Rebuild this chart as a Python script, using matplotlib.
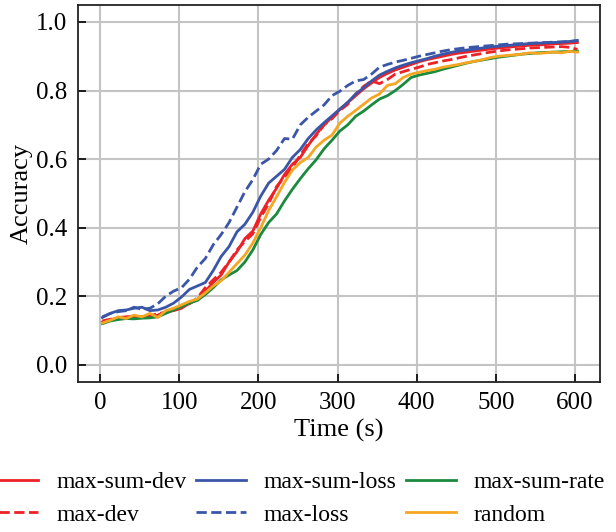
import numpy as np
import matplotlib
matplotlib.use('Agg')
import matplotlib.pyplot as plt

plt.rcParams['font.family'] = ['Liberation Serif', 'DejaVu Serif']
plt.rcParams['mathtext.fontset'] = 'stix'

# czas (s) - próbki co 10 s
time = np.arange(3, 604, 10)

max_sum_dev = [0.125, 0.130, 0.138, 0.140, 0.142, 0.140, 0.140, 0.145, 0.155, 0.158,
               0.165, 0.180, 0.190, 0.215, 0.240, 0.262, 0.300, 0.330, 0.368, 0.390,
               0.440, 0.480, 0.515, 0.555, 0.585, 0.605, 0.640, 0.672, 0.700, 0.722,
               0.745, 0.765, 0.785, 0.805, 0.822, 0.838, 0.850, 0.860, 0.868, 0.876,
               0.884, 0.890, 0.895, 0.900, 0.905, 0.909, 0.912, 0.915, 0.918, 0.921,
               0.924, 0.926, 0.928, 0.930, 0.932, 0.933, 0.934, 0.936, 0.937, 0.938,
               0.940]
max_dev = [0.128, 0.133, 0.135, 0.138, 0.140, 0.138, 0.142, 0.150, 0.152, 0.160,
           0.170, 0.178, 0.195, 0.225, 0.248, 0.270, 0.300, 0.335, 0.360, 0.382,
           0.430, 0.470, 0.520, 0.548, 0.575, 0.612, 0.645, 0.668, 0.700, 0.718,
           0.742, 0.760, 0.790, 0.812, 0.828, 0.820, 0.832, 0.848, 0.855, 0.862,
           0.868, 0.876, 0.881, 0.886, 0.890, 0.895, 0.900, 0.904, 0.908, 0.912,
           0.915, 0.918, 0.920, 0.922, 0.924, 0.925, 0.926, 0.927, 0.928, 0.926,
           0.920]
max_sum_loss = [0.138, 0.150, 0.158, 0.160, 0.165, 0.168, 0.158, 0.160, 0.168, 0.180,
                0.198, 0.220, 0.230, 0.240, 0.275, 0.316, 0.345, 0.388, 0.410, 0.445,
                0.492, 0.530, 0.550, 0.570, 0.605, 0.628, 0.660, 0.685, 0.706, 0.726,
                0.746, 0.766, 0.790, 0.808, 0.828, 0.845, 0.856, 0.866, 0.874, 0.881,
                0.887, 0.893, 0.900, 0.906, 0.911, 0.915, 0.918, 0.921, 0.924, 0.927,
                0.929, 0.931, 0.933, 0.935, 0.937, 0.938, 0.939, 0.940, 0.941, 0.943,
                0.946]
max_loss = [0.140, 0.150, 0.155, 0.158, 0.168, 0.162, 0.165, 0.178, 0.200, 0.215,
            0.225, 0.250, 0.285, 0.310, 0.350, 0.380, 0.415, 0.460, 0.505, 0.540,
            0.585, 0.600, 0.625, 0.660, 0.658, 0.700, 0.722, 0.740, 0.758, 0.785,
            0.798, 0.815, 0.828, 0.832, 0.848, 0.868, 0.876, 0.883, 0.888, 0.894,
            0.900, 0.905, 0.910, 0.915, 0.919, 0.922, 0.925, 0.927, 0.929, 0.931,
            0.933, 0.935, 0.936, 0.937, 0.938, 0.939, 0.940, 0.941, 0.942, 0.943,
            0.945]
max_sum_rate = [0.120, 0.128, 0.132, 0.135, 0.134, 0.136, 0.137, 0.140, 0.150, 0.160,
                0.170, 0.180, 0.188, 0.205, 0.225, 0.248, 0.262, 0.275, 0.300, 0.335,
                0.380, 0.415, 0.440, 0.478, 0.512, 0.543, 0.572, 0.598, 0.630, 0.655,
                0.682, 0.700, 0.725, 0.740, 0.758, 0.775, 0.785, 0.800, 0.818, 0.838,
                0.845, 0.850, 0.855, 0.862, 0.868, 0.874, 0.880, 0.885, 0.889, 0.893,
                0.897, 0.900, 0.903, 0.906, 0.908, 0.910, 0.911, 0.912, 0.913, 0.914,
                0.915]
random_sel = [0.122, 0.130, 0.140, 0.135, 0.145, 0.140, 0.150, 0.138, 0.158, 0.165,
              0.175, 0.185, 0.192, 0.210, 0.230, 0.245, 0.270, 0.295, 0.320, 0.355,
              0.400, 0.450, 0.490, 0.532, 0.568, 0.590, 0.605, 0.635, 0.655, 0.670,
              0.705, 0.725, 0.742, 0.760, 0.778, 0.790, 0.815, 0.820, 0.838, 0.848,
              0.853, 0.858, 0.862, 0.868, 0.872, 0.876, 0.881, 0.885, 0.890, 0.896,
              0.900, 0.902, 0.904, 0.906, 0.910, 0.908, 0.910, 0.912, 0.910, 0.914,
              0.912]

fig = plt.figure(figsize=(6.16, 5.32), dpi=100)
ax = fig.add_axes([0.127, 0.282, 0.847, 0.709])

ax.plot(time, max_sum_dev, color='#ec2227', lw=2, label='max-sum-dev')
ax.plot(time, max_dev, color='#ec2227', lw=2, ls='--', label='max-dev')
ax.plot(time, max_sum_loss, color='#3a56a8', lw=2, label='max-sum-loss')
ax.plot(time, max_loss, color='#3a56a8', lw=2, ls='--', label='max-loss')
ax.plot(time, max_sum_rate, color='#1b8a3c', lw=2, label='max-sum-rate')
ax.plot(time, random_sel, color='#f5a623', lw=2, label='random')

ax.set_xlim(-27.5, 631.5)
ax.set_ylim(-0.05, 1.05)
ax.set_xticks([0, 100, 200, 300, 400, 500, 600])
ax.set_yticks([0.0, 0.2, 0.4, 0.6, 0.8, 1.0])
ax.set_yticklabels(['0.0', '0.2', '0.4', '0.6', '0.8', '1.0'])
ax.grid(True, color='#c4c4c4', lw=1.5)
ax.set_axisbelow(True)
ax.tick_params(direction='in', length=6, width=1.2, labelsize=18)
ax.tick_params(axis='x', pad=7)
ax.tick_params(axis='y', pad=8)
for s in ax.spines.values():
    s.set_linewidth(1.3)
    s.set_color('#222222')

ax.set_xlabel('Time (s)', fontsize=19, labelpad=4)
ax.set_ylabel('Accuracy', fontsize=19, labelpad=2)

fig.legend(loc='upper left', bbox_to_anchor=(-0.018, 0.114), ncol=3, frameon=False,
           fontsize=17, handlelength=2.1, handletextpad=0.76, columnspacing=0.4,
           borderpad=0, borderaxespad=0, labelspacing=0.48)

plt.savefig('out.png', dpi=100)
